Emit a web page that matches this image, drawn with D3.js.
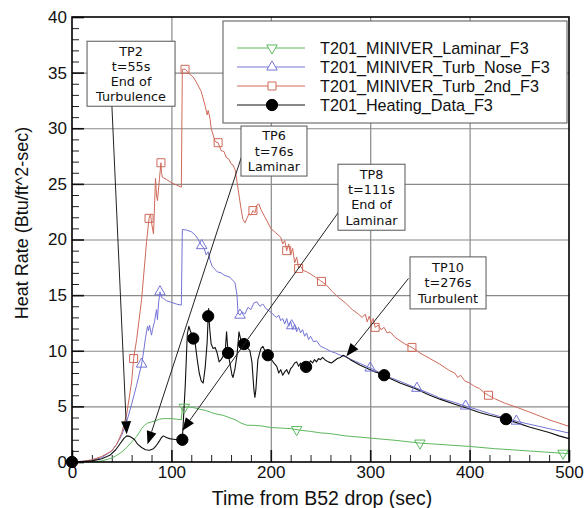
<!DOCTYPE html>
<html>
<head>
<meta charset="utf-8">
<script src="https://cdn.jsdelivr.net/npm/d3@7"></script>
<style>
  html, body { margin: 0; padding: 0; background: #fff; }
  svg { display: block; font-family: "Liberation Sans", Arial, Helvetica, sans-serif; }
</style>
</head>
<body>
<svg id="chart" width="586" height="508"></svg>
<script>
// ---- data: [time (s), heat rate (Btu/ft^2-sec)] ----
const laminar = [[0,0],[20,0.02],[30,0.1],[40,0.35],[45,0.6],[50,0.9],[55,1.3],[60,1.8],[65,2.3],[68,2.7],[70,3.0],[73,3.3],[76,3.5],[80,3.6],[84,3.7],[88,3.85],[92,3.9],[96,3.9],[100,3.9],[105,3.85],[110,3.8],[111,4.9],[116,4.95],[122,4.9],[128,4.75],[134,4.65],[140,4.45],[146,4.3],[152,4.2],[158,4.0],[164,3.8],[170,3.5],[176,3.3],[182,3.3],[190,3.25],[200,3.1],[210,3.05],[220,3.0],[230,2.85],[240,2.75],[250,2.62],[260,2.55],[275,2.35],[300,2.15],[325,1.95],[350,1.7],[375,1.55],[400,1.4],[425,1.2],[450,1.05],[475,0.9],[500,0.75]];

const turbNose = [[0,0],[20,0.15],[30,0.4],[40,1.0],[45,1.6],[50,2.4],[55,3.6],[60,5.2],[65,6.9],[70,8.8],[72,9.9],[74,11.2],[76,12.2],[77,11.8],[78,12.3],[80,11.4],[81,11.9],[83,12.6],[85,13.7],[86,12.8],[87,14.2],[88.5,15.3],[90,14.8],[92,14.7],[95,14.5],[100,14.35],[105,14.2],[110,14.1],[111,20.9],[115,20.85],[120,20.7],[124,20.4],[127,20.0],[130,19.5],[133,19.2],[135,18.6],[137,18.9],[139,18.1],[141,17.6],[144,17.3],[146,17.1],[150,17.0],[153,16.8],[156,16.7],[159,16.6],[162,16.3],[164,16.1],[166,15.0],[167,13.4],[169,13.2],[171,13.5],[174,13.3],[177,13.9],[180,13.7],[183,14.3],[186,14.4],[189,14.0],[192,14.2],[195,13.8],[198,13.6],[201,13.4],[204,13.1],[206,13.0],[208,13.2],[210,12.7],[212,12.9],[214,12.4],[216,12.9],[218,12.2],[220,12.6],[222,11.9],[224,12.4],[226,11.7],[228,12.1],[230,11.6],[232,11.9],[234,11.3],[236,11.6],[238,11.0],[240,11.3],[243,10.8],[246,10.9],[250,10.4],[255,10.2],[260,9.95],[265,9.8],[270,9.6],[275,9.45],[280,9.25],[285,9.05],[290,8.85],[295,8.65],[300,8.45],[305,8.25],[310,8.0],[315,7.8],[320,7.6],[330,7.25],[345,6.7],[360,6.15],[370,5.75],[385,5.35],[397,5.0],[410,4.65],[420,4.35],[436,3.95],[450,3.6],[460,3.4],[470,3.2],[480,3.0],[490,2.8],[500,2.6]];

const turb2nd = [[0,0],[10,0.05],[20,0.2],[30,0.5],[40,1.0],[45,1.6],[50,2.6],[55,4.3],[60,7.2],[62,9.3],[65,11.0],[70,14.6],[75,19.8],[77.5,21.9],[79,22.3],[80,21.5],[82,20.5],[83,23.0],[84,25.5],[85,24.0],[86,23.5],[88,25.5],[89.5,26.9],[90,26.0],[91,25.6],[95,25.4],[100,25.1],[105,24.9],[110,24.7],[111,35.3],[114,35.3],[118,34.9],[122,34.6],[126,34.0],[130,33.3],[134,32.0],[136,31.2],[137,31.6],[139,30.8],[140,30.0],[142,29.4],[144,28.8],[147,28.7],[150,28.0],[153,27.9],[155,27.4],[158,27.2],[160,26.8],[162,26.7],[164,26.3],[166,25.2],[168,24.0],[170,22.8],[172,21.8],[174,21.5],[176,21.9],[178,22.3],[180,22.2],[182,22.6],[184,22.4],[186,23.1],[188,23.2],[190,22.7],[193,22.2],[196,21.7],[200,21.0],[205,20.6],[210,20.2],[212,19.6],[214,19.9],[216,19.0],[218,19.6],[220,18.6],[222,19.2],[224,17.9],[226,18.4],[228,17.4],[230,17.6],[233,17.2],[236,17.1],[240,16.9],[245,16.6],[250,16.3],[256,15.9],[262,15.3],[268,14.8],[275,14.3],[282,13.7],[288,13.3],[292,13.0],[295,13.3],[297,12.6],[299,13.1],[301,12.5],[303,12.9],[305,12.1],[308,12.3],[311,11.9],[314,12.1],[317,11.6],[320,11.7],[325,11.2],[330,10.9],[335,10.6],[342,10.3],[350,9.8],[360,9.3],[370,8.8],[380,8.2],[385,8.0],[388,7.6],[391,7.8],[395,7.3],[400,7.1],[405,6.8],[410,6.6],[415,6.2],[419,6.0],[425,5.7],[435,5.3],[448,4.9],[460,4.5],[470,4.15],[480,3.8],[490,3.5],[500,3.2]];

const heating = [[0,0],[10,0.02],[20,0.1],[30,0.3],[38,0.6],[44,1.1],[48,1.6],[52,2.1],[55,2.35],[58,2.3],[60,2.2],[63,2.0],[66,1.6],[70,1.3],[74,1.1],[78,1.05],[82,1.2],[85,1.5],[88,1.9],[90,2.2],[92,2.35],[95,2.2],[98,2.1],[102,2.05],[106,2.0],[111,2.0],[114,7.0],[116,11.5],[117.5,12.2],[119,11.8],[122,11.1],[124,10.6],[126,9.2],[128,8.0],[130,7.3],[132,7.1],[134,8.5],[136,10.8],[137,13.1],[137.5,13.8],[138.5,12.0],[140,10.6],[142,10.2],[144,10.3],[146,9.8],[148,9.0],[150,9.2],[152,9.5],[154,9.8],[155.5,11.7],[157,9.8],[159,8.8],[161,7.8],[162,7.6],[164,8.4],[166,9.6],[168,11.7],[170,10.9],[173,10.6],[176,10.3],[179,10.0],[181,9.0],[183,6.5],[184,5.8],[185,6.5],[187,9.2],[190,10.2],[192,10.4],[194,10.0],[197,9.6],[200,9.3],[203,8.9],[206,8.6],[208,8.0],[210,8.3],[212,7.8],[214,8.1],[216,8.3],[218,7.9],[220,8.4],[222,8.6],[224,8.9],[226,9.0],[228,8.6],[230,8.9],[232,8.5],[235.5,8.55],[238,8.8],[240,9.1],[242,8.9],[244,9.2],[246,9.0],[248,9.3],[250,9.2],[252,9.4],[255,9.15],[258,9.0],[261,8.9],[264,9.1],[267,9.3],[270,9.4],[273,9.6],[276,9.45],[280,9.2],[285,8.95],[290,8.7],[295,8.5],[300,8.3],[305,8.1],[310,7.95],[314,7.8],[320,7.5],[330,7.1],[345,6.6],[360,6.0],[370,5.65],[385,5.2],[397,4.85],[410,4.45],[420,4.2],[436.6,3.85],[450,3.45],[460,3.15],[470,2.9],[480,2.65],[490,2.35],[500,2.1]];

// marker times along each curve
const laminarMarks  = [113, 226, 350, 494];
const turbNoseMarks = [70, 88.5, 130.5, 169, 221, 300, 347, 396, 447];
const turb2ndMarks  = [62, 77.5, 89.5, 113.7, 147, 182, 216, 228, 251, 305, 342, 419];
const heatingMarks  = [0, 111, 122, 137, 157, 173, 197, 235.5, 314, 436.6];

const seriesNames = ["T201_MINIVER_Laminar_F3", "T201_MINIVER_Turb_Nose_F3", "T201_MINIVER_Turb_2nd_F3", "T201_Heating_Data_F3"];

const xMajor = [0, 100, 200, 300, 400, 500];
const yMajor = [0, 5, 10, 15, 20, 25, 30, 35, 40];

// callouts: test point, time, arrow tip value
const calloutNames = ["TP2", "TP6", "TP8", "TP10"];
const calloutTimes = [55, 76, 111, 276];
const calloutTipValues = [2.5, 1.6, 2.8, 9.5];
const calloutNotes = [["End of", "Turbulence"], ["Laminar"], ["End of", "Laminar"], ["Turbulent"]];

// ---- layout ----
const svg = d3.select("#chart");
const x = d3.scaleLinear().domain([0, 500]).range([72, 569]);
const y = d3.scaleLinear().domain([0, 40]).range([462, 17]);

const series = [
  { name: seriesNames[0], data: laminar,  marks: laminarMarks,  color: "#5cb85c", symbol: "down" },
  { name: seriesNames[1], data: turbNose, marks: turbNoseMarks, color: "#7474d6", symbol: "up" },
  { name: seriesNames[2], data: turb2nd,  marks: turb2ndMarks,  color: "#cf6a5a", symbol: "square" },
  { name: seriesNames[3], data: heating,  marks: heatingMarks,  color: "#111111", symbol: "circle" }
];

function valueAt(data, t) {
  for (let i = 1; i < data.length; i++) {
    if (data[i][0] >= t) {
      const [t0, v0] = data[i - 1], [t1, v1] = data[i];
      return t1 === t0 ? v1 : v0 + (v1 - v0) * (t - t0) / (t1 - t0);
    }
  }
  return data[data.length - 1][1];
}

function symbolPath(kind) {
  if (kind === "square") return d3.symbol().type(d3.symbolSquare).size(64)();
  if (kind === "circle") return d3.symbol().type(d3.symbolCircle).size(100)();
  return d3.symbol().type(d3.symbolTriangle).size(48)();
}
function symbolTransform(kind, px, py) {
  return kind === "down" ? `translate(${px},${py}) rotate(180)` : `translate(${px},${py})`;
}

// gridlines
const xMinor = d3.range(0, 501, 20).filter(d => d % 100 !== 0);
const yMinor = d3.range(0, 41, 1).filter(d => d % 5 !== 0);

svg.append("g").attr("transform", "translate(0,462)")
  .call(d3.axisBottom(x).tickValues(xMajor.slice(1, -1)).tickSize(-(462 - 17)).tickFormat(""))
  .call(g => g.select(".domain").remove())
  .call(g => g.selectAll("line").attr("stroke", "#8a8a8a").attr("stroke-width", 1.2));
svg.append("g").attr("transform", "translate(72,0)")
  .call(d3.axisLeft(y).tickValues(yMajor.slice(1, -1)).tickSize(-(569 - 72)).tickFormat(""))
  .call(g => g.select(".domain").remove())
  .call(g => g.selectAll("line").attr("stroke", "#8a8a8a").attr("stroke-width", 1.2));

// minor / major ticks (inward)
svg.append("g").attr("transform", "translate(0,462)")
  .call(d3.axisBottom(x).tickValues(xMinor).tickSize(-7).tickFormat(""))
  .call(g => g.select(".domain").remove())
  .call(g => g.selectAll("line").attr("stroke", "#222").attr("stroke-width", 1));
svg.append("g").attr("transform", "translate(0,462)")
  .call(d3.axisBottom(x).tickValues(xMajor).tickSize(-12).tickFormat(""))
  .call(g => g.select(".domain").remove())
  .call(g => g.selectAll("line").attr("stroke", "#111").attr("stroke-width", 1.6));
svg.append("g").attr("transform", "translate(72,0)")
  .call(d3.axisLeft(y).tickValues(yMinor).tickSize(-7).tickFormat(""))
  .call(g => g.select(".domain").remove())
  .call(g => g.selectAll("line").attr("stroke", "#222").attr("stroke-width", 1));
svg.append("g").attr("transform", "translate(72,0)")
  .call(d3.axisLeft(y).tickValues(yMajor).tickSize(-12).tickFormat(""))
  .call(g => g.select(".domain").remove())
  .call(g => g.selectAll("line").attr("stroke", "#111").attr("stroke-width", 1.6));

// tick labels
svg.append("g").attr("transform", "translate(0,462)")
  .call(d3.axisBottom(x).tickValues(xMajor).tickSize(0).tickPadding(4).tickFormat(d3.format("d")))
  .call(g => g.select(".domain").remove())
  .call(g => g.selectAll("text").attr("font-size", 17).attr("fill", "#111").attr("font-family", "'Liberation Sans', Arial, sans-serif"));
svg.append("g").attr("transform", "translate(72,0)")
  .call(d3.axisLeft(y).tickValues(yMajor).tickSize(0).tickPadding(5).tickFormat(d3.format("d")))
  .call(g => g.select(".domain").remove())
  .call(g => g.selectAll("text").attr("font-size", 17).attr("fill", "#111").attr("font-family", "'Liberation Sans', Arial, sans-serif"));

// curves
const line = d3.line().x(d => x(d[0])).y(d => y(d[1]));
const plot = svg.append("g");
series.forEach(s => {
  plot.append("path").datum(s.data)
    .attr("d", line).attr("fill", "none")
    .attr("stroke", s.color).attr("stroke-width", s.symbol === "circle" ? 1.1 : 1)
    .attr("stroke-linejoin", "round");
});
series.forEach(s => {
  plot.selectAll(null).data(s.marks).enter().append("path")
    .attr("d", symbolPath(s.symbol))
    .attr("transform", t => symbolTransform(s.symbol, x(t), y(valueAt(s.data, t))))
    .attr("fill", s.symbol === "circle" ? "#000" : "none")
    .attr("stroke", s.symbol === "circle" ? "#000" : s.color)
    .attr("stroke-width", 1);
});

// frame
svg.append("rect").attr("x", x(0)).attr("y", y(40))
  .attr("width", x(500) - x(0)).attr("height", y(0) - y(40))
  .attr("fill", "none").attr("stroke", "#000").attr("stroke-width", 1.6);

// callouts: box center and leader start, in data units
const calloutBoxes = [
  { cx: 59.4, cy: 34.9, w: 88, h: 65, from: [40, 32.3] },
  { cx: 203.2, cy: 27.95, w: 66, h: 50, from: [171.5, 27.7] },
  { cx: 301.3, cy: 23.8, w: 67, h: 66, from: [268.5, 22.5] },
  { cx: 378.3, cy: 16.1, w: 76, h: 52, from: [338.5, 16.5] }
];
const callouts = calloutNames.map((n, i) => ({
  lines: [n, `t=${calloutTimes[i]}s`, ...calloutNotes[i]],
  tip: [calloutTimes[i], calloutTipValues[i]],
  box: calloutBoxes[i]
}));

const ann = svg.append("g");
callouts.forEach(c => {
  const x0 = x(c.box.from[0]), y0 = y(c.box.from[1]);
  const x1 = x(c.tip[0]), y1 = y(c.tip[1]);
  const len = Math.hypot(x1 - x0, y1 - y0);
  const ux = (x1 - x0) / len, uy = (y1 - y0) / len;
  const head = 13, half = 5;
  const bx = x1 - ux * head, by = y1 - uy * head;
  ann.append("line").attr("x1", x0).attr("y1", y0).attr("x2", bx).attr("y2", by)
    .attr("stroke", "#222").attr("stroke-width", 1);
  ann.append("path")
    .attr("d", `M${x1},${y1}L${bx - uy * half},${by + ux * half}L${bx + uy * half},${by - ux * half}Z`)
    .attr("fill", "#000");
});
callouts.forEach(c => {
  const cx = x(c.box.cx), cy = y(c.box.cy);
  ann.append("rect")
    .attr("x", cx - c.box.w / 2).attr("y", cy - c.box.h / 2)
    .attr("width", c.box.w).attr("height", c.box.h)
    .attr("fill", "#fff").attr("stroke", "#555").attr("stroke-width", 1);
  const lh = 15.2;
  const top = cy - (c.lines.length - 1) * lh / 2;
  c.lines.forEach((t, i) => {
    ann.append("text").attr("x", cx).attr("y", top + i * lh)
      .attr("dy", "0.36em").attr("text-anchor", "middle")
      .attr("font-family", "'DejaVu Sans', Verdana, sans-serif")
      .attr("font-size", 12.8).attr("fill", "#111").text(t);
  });
});

// legend
const lg = svg.append("g");
lg.append("rect").attr("x", 223).attr("y", 21).attr("width", 344).attr("height", 102)
  .attr("fill", "#fff").attr("stroke", "#555").attr("stroke-width", 1);
series.forEach((s, i) => {
  const ry = 48 + i * 19;
  lg.append("line").attr("x1", 237).attr("x2", 305).attr("y1", ry).attr("y2", ry)
    .attr("stroke", s.color).attr("stroke-width", 1);
  lg.append("path").attr("d", symbolPath(s.symbol))
    .attr("transform", symbolTransform(s.symbol, 272, ry))
    .attr("fill", s.symbol === "circle" ? "#000" : "#fff")
    .attr("stroke", s.symbol === "circle" ? "#000" : s.color);
  lg.append("text").attr("x", 320).attr("y", ry).attr("dy", "0.36em")
    .attr("font-size", 16.2).attr("fill", "#111").text(s.name);
});

// axis titles
svg.append("text").attr("x", 322).attr("y", 505).attr("text-anchor", "middle")
  .attr("font-size", 19.5).attr("fill", "#111").text("Time from B52 drop (sec)");
svg.append("text").attr("transform", "translate(28,223) rotate(-90)")
  .attr("text-anchor", "middle").attr("font-size", 18).attr("fill", "#111")
  .text("Heat Rate (Btu/ft^2-sec)");
</script>
</body>
</html>
